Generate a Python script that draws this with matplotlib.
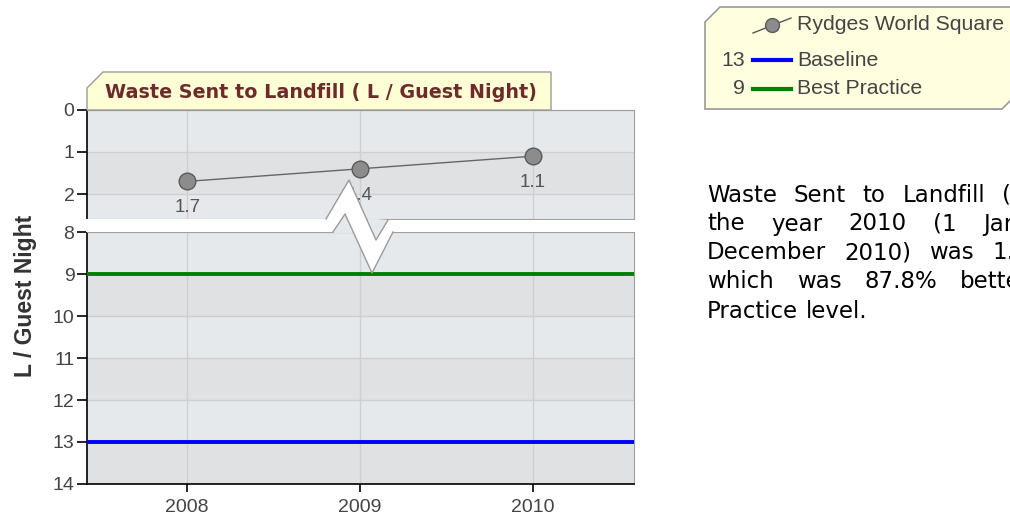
import matplotlib
matplotlib.use("Agg")
import matplotlib.pyplot as plt
from matplotlib.patches import Polygon
from matplotlib.lines import Line2D

# data
years = [2008, 2009, 2010]
waste = [1.7, 1.4, 1.1]
baseline = 13
best_practice = 9
series_name = "Rydges World Square"
title = "Waste Sent to Landfill ( L / Guest Night)"
ylabel = "L / Guest Night"
top_ticks = [0, 1, 2]
bottom_ticks = [8, 9, 10, 11, 12, 13, 14]
para_lines = [
    ["Waste", "Sent", "to", "Landfill", "(L"],
    ["the", "year", "2010", "(1", "January"],
    ["December", "2010)", "was", "1.1"],
    ["which", "was", "87.8%", "better"],
    ["Practice", "level."],
]

W, H = 1010, 523
plt.rcParams['font.family'] = ['Liberation Sans', 'DejaVu Sans']
fig = plt.figure(figsize=(W / 100, H / 100), dpi=100)


def fx(px):
    return px / W


def fy(py):
    return 1 - py / H


def px_pts(pts):
    return [(fx(x), fy(y)) for x, y in pts]


L, R = 87, 634
top_y0, top_y1 = 110, 219      # value 0 .. 2.6
bot_y0, bot_y1 = 232, 484      # value 8 .. 14
ax_top = fig.add_axes([fx(L), fy(top_y1), fx(R - L), (top_y1 - top_y0) / H])
ax_bot = fig.add_axes([fx(L), fy(bot_y1), fx(R - L), (bot_y1 - bot_y0) / H])

band_light = '#e6e9ec'
band_dark = '#e0e1e3'
grid_c = '#cfcfcf'
xlim = (2007.42, 2010.585)
tick_c = '#444444'

top_max = (top_y1 - top_y0) / 42.0
for ax, lo, hi in [(ax_top, 0, top_max), (ax_bot, 8, 14)]:
    ax.set_facecolor(band_light)
    ax.set_xlim(*xlim)
    ax.set_ylim(hi, lo)
    v = int(lo)
    while v < hi:
        ax.axhspan(v, v + 1, color=band_light if v % 2 == 0 else band_dark, zorder=0, lw=0)
        v += 1
    for yr in years:
        ax.axvline(yr, color=grid_c, lw=1, zorder=1)
    for s in ['top', 'right', 'bottom']:
        ax.spines[s].set_color('#a0a0a0')
    ax.spines['left'].set_color('black')
    ax.spines['left'].set_linewidth(1.2)
    ax.tick_params(axis='y', colors='black', labelcolor=tick_c, labelsize=14, length=7, width=1.2, pad=2)

ax_top.set_yticks(top_ticks)
ax_top.set_xticks([])
ax_bot.set_yticks(bottom_ticks)
ax_bot.set_xticks(years)
ax_bot.set_xticklabels([str(y) for y in years])
ax_bot.tick_params(axis='x', colors='black', labelcolor=tick_c, labelsize=14, length=6, width=1.2, pad=5)
ax_bot.spines['bottom'].set_color('black')
ax_bot.spines['bottom'].set_linewidth(1.2)
for t in top_ticks:
    ax_top.axhline(t, color=grid_c, lw=1, zorder=1)
for t in bottom_ticks:
    ax_bot.axhline(t, color=grid_c, lw=1, zorder=1)

# reference lines
ax_bot.axhline(best_practice, color='#008000', lw=2.8, zorder=3)
ax_bot.axhline(baseline, color='#0000ff', lw=2.8, zorder=3)

# series
ax_top.plot(years, waste, color='#666666', lw=1, marker='o', ms=12,
            mfc='#8c8c8c', mec='#5a5a5a', mew=1, zorder=4, clip_on=False)
for x, y in zip(years, waste):
    ax_top.annotate(f"{y:.1f}", (x, y), xytext=(0, -19), textcoords='offset points',
                    ha='center', va='center', fontsize=13.5, color='#555555', zorder=5)

fig.text(fx(26), fy(296), ylabel, rotation=90, ha='center', va='center',
         fontsize=16.5, fontweight='bold', color='#333333')

# axis break (white zigzag band between the two panels)
top_edge = [(L - 1, top_y1), (326, top_y1), (349, 180), (376, 240), (388, top_y1 + 1), (R + 1, top_y1 + 1)]
bot_edge = [(R + 1, bot_y0), (393, bot_y0), (372, 273), (345, 214), (333, bot_y0), (L - 1, bot_y0)]
fig.add_artist(Polygon(px_pts(top_edge + bot_edge), closed=True, transform=fig.transFigure,
                       fc='white', ec='none', zorder=5))
fig.add_artist(Polygon(px_pts([(367, top_y1 - 1), (376, 240), (388, top_y1 + 1)]), closed=True,
                       transform=fig.transFigure, fc=band_light, ec='none', zorder=5))
fig.add_artist(Polygon(px_pts([(333, bot_y0 + 1), (345, 214), (353, bot_y0 + 1)]), closed=True,
                       transform=fig.transFigure, fc=band_light, ec='none', zorder=5))
for edge in (top_edge[1:-1], bot_edge[1:-1]):
    xs, ys = zip(*px_pts(edge))
    fig.add_artist(Line2D(xs, ys, transform=fig.transFigure, color='#9a9a9a', lw=1, zorder=6))

# title tab
tab = [(L, top_y0), (L, 88), (103, 72), (551, 72), (551, top_y0)]
fig.add_artist(Polygon(px_pts(tab), closed=True, transform=fig.transFigure,
                       fc='#ffffd6', ec='#9a9a9a', lw=1, zorder=6))
fig.text(fx(105), fy(92), title, ha='left', va='center', fontsize=13.8,
         fontweight='bold', color='#6e2b2b', family=['DejaVu Sans'], zorder=7)

# legend box
leg = [(705, 109), (705, 22), (720, 7), (1016, 7), (1016, 95), (1002, 109)]
fig.add_artist(Polygon(px_pts(leg), closed=True, transform=fig.transFigure,
                       fc='#ffffe0', ec='#9a9a9a', lw=1.2, zorder=6))
rows = [25, 60, 89]
icon_x0, icon_x1, txt_x, num_x = 753, 791, 797, 745
leg_fs = 15.3
fig.add_artist(Line2D([fx(icon_x0), fx(icon_x1)], [fy(rows[0] + 8), fy(rows[0] - 7)],
                      transform=fig.transFigure, color='#555555', lw=1, zorder=7))
fig.add_artist(Line2D([fx((icon_x0 + icon_x1) / 2)], [fy(rows[0])], transform=fig.transFigure,
                      marker='o', ms=10, mfc='#8c8c8c', mec='#5a5a5a', zorder=8))
fig.text(fx(txt_x), fy(rows[0]), series_name, ha='left', va='center', fontsize=leg_fs,
         color='#444444', zorder=8)
for row, val, col, name in [(rows[1], baseline, '#0000ff', 'Baseline'),
                            (rows[2], best_practice, '#008000', 'Best Practice')]:
    fig.add_artist(Line2D([fx(icon_x0), fx(icon_x1)], [fy(row), fy(row)], transform=fig.transFigure,
                          color=col, lw=3, zorder=7))
    fig.text(fx(num_x), fy(row), str(val), ha='right', va='center', fontsize=leg_fs, color='#444444', zorder=8)
    fig.text(fx(txt_x), fy(row), name, ha='left', va='center', fontsize=leg_fs, color='#444444', zorder=8)

# paragraph: justified lines, the right part is cut off by the page edge
para_x0 = 707
last_word_x = [1002, 983, 992, 960, None]
line_y = [195, 224, 253, 282, 311]
para_fs = 16.5
renderer = fig.canvas.get_renderer()
for words, last_x, y in zip(para_lines, last_word_x, line_y):
    arts = [fig.text(0, fy(y), w, ha='left', va='center', fontsize=para_fs,
                     color='black', family=['DejaVu Sans']) for w in words]
    widths = [a.get_window_extent(renderer).width for a in arts]
    if last_x is None:
        gap = para_fs * 0.318 * 100 / 72
    else:
        gap = (last_x - para_x0 - sum(widths[:-1])) / (len(words) - 1)
    x = para_x0
    for a, w in zip(arts, widths):
        a.set_x(fx(x))
        x += w + gap

fig.savefig("out.png", dpi=100)
